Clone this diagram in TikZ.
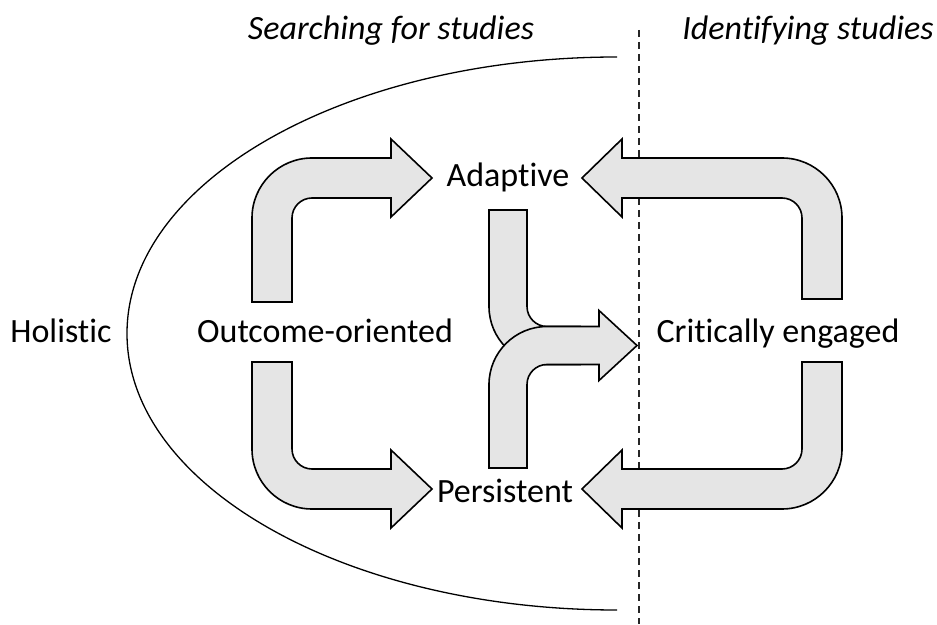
\documentclass[tikz,border=0pt]{standalone}
\usepackage{fontspec}
\setmainfont{Carlito}[Ligatures=NoCommon]
\usepackage{tikz}
\usetikzlibrary{positioning,calc}

\begin{document}
\begin{tikzpicture}[
    x=1pt, y=1pt,
    font=\fontsize{34}{40}\selectfont,
    label/.style={anchor=base, inner sep=0pt},
    head/.style={anchor=base, inner sep=0pt, font=\fontsize{34}{40}\selectfont\itshape},
    blockarrow/.style={draw=black, line width=1.6pt, fill=gray!20, line join=miter},
    divider/.style={line width=1.6pt, dash pattern=on 7pt off 5pt, black!85}
]
\useasboundingbox (0,0) rectangle (937,624);

% headings
\node[head] (search) at (391,584) {Searching for studies};
\node[head] (identify) at (808,584) {Identifying studies};

% labels
\node[label] (holistic) at (61,281) {Holistic};
\node[label] (outcome) at (325,281) {Outcome-oriented};
\node[label] (critical) at (778,281) {Critically engaged};
\node[label] (adaptive) at (508,437) {Adaptive};
\node[label] (persistent) at (505,121) {Persistent};

% half ellipse round the search side
\draw[line width=1.3pt] (617,567) arc[start angle=90, end angle=270, x radius=490pt, y radius=276.5pt];

% divider between the two phases
\draw[divider] (639,594) -- (639,0);

% outcome-oriented to adaptive
\draw[blockarrow] (252,322) -- (252,406) arc[start angle=180, end angle=90, radius=60pt]
    -- (391,466) -- (391,485) -- (432,446) -- (391,407) -- (391,426) -- (312,426)
    arc[start angle=90, end angle=180, radius=20pt] -- (292,322) -- cycle;

% outcome-oriented to persistent
\draw[blockarrow] (252,262) -- (252,175) arc[start angle=180, end angle=270, radius=60pt]
    -- (391,115) -- (391,96) -- (432,135) -- (391,174) -- (391,155) -- (312,155)
    arc[start angle=270, end angle=180, radius=20pt] -- (292,262) -- cycle;

% critically engaged to adaptive
\draw[blockarrow] (842,325) -- (842,406) arc[start angle=0, end angle=90, radius=60pt]
    -- (622,466) -- (622,485) -- (582,446) -- (622,407) -- (622,426) -- (782,426)
    arc[start angle=90, end angle=0, radius=20pt] -- (802,325) -- cycle;

% critically engaged to persistent
\draw[blockarrow] (842,262) -- (842,175) arc[start angle=0, end angle=-90, radius=60pt]
    -- (622,115) -- (622,96) -- (582,135) -- (622,174) -- (622,155) -- (782,155)
    arc[start angle=-90, end angle=0, radius=20pt] -- (802,262) -- cycle;

% adaptive and persistent merging towards identifying
\draw[blockarrow] (489,414) -- (489,317.5) arc[start angle=180, end angle=270, radius=58pt]
    -- (580,259.5) -- (580,297.5) -- (547,297.5)
    arc[start angle=270, end angle=180, radius=20pt] -- (527,414) -- cycle;
\draw[blockarrow] (489,156) -- (489,239.5) arc[start angle=180, end angle=90, radius=58pt]
    -- (599,297.5) -- (599,313.5) -- (637,278.5) -- (599,243.5) -- (599,259.5) -- (547,259.5)
    arc[start angle=90, end angle=180, radius=20pt] -- (527,156) -- cycle;

\end{tikzpicture}
\end{document}
